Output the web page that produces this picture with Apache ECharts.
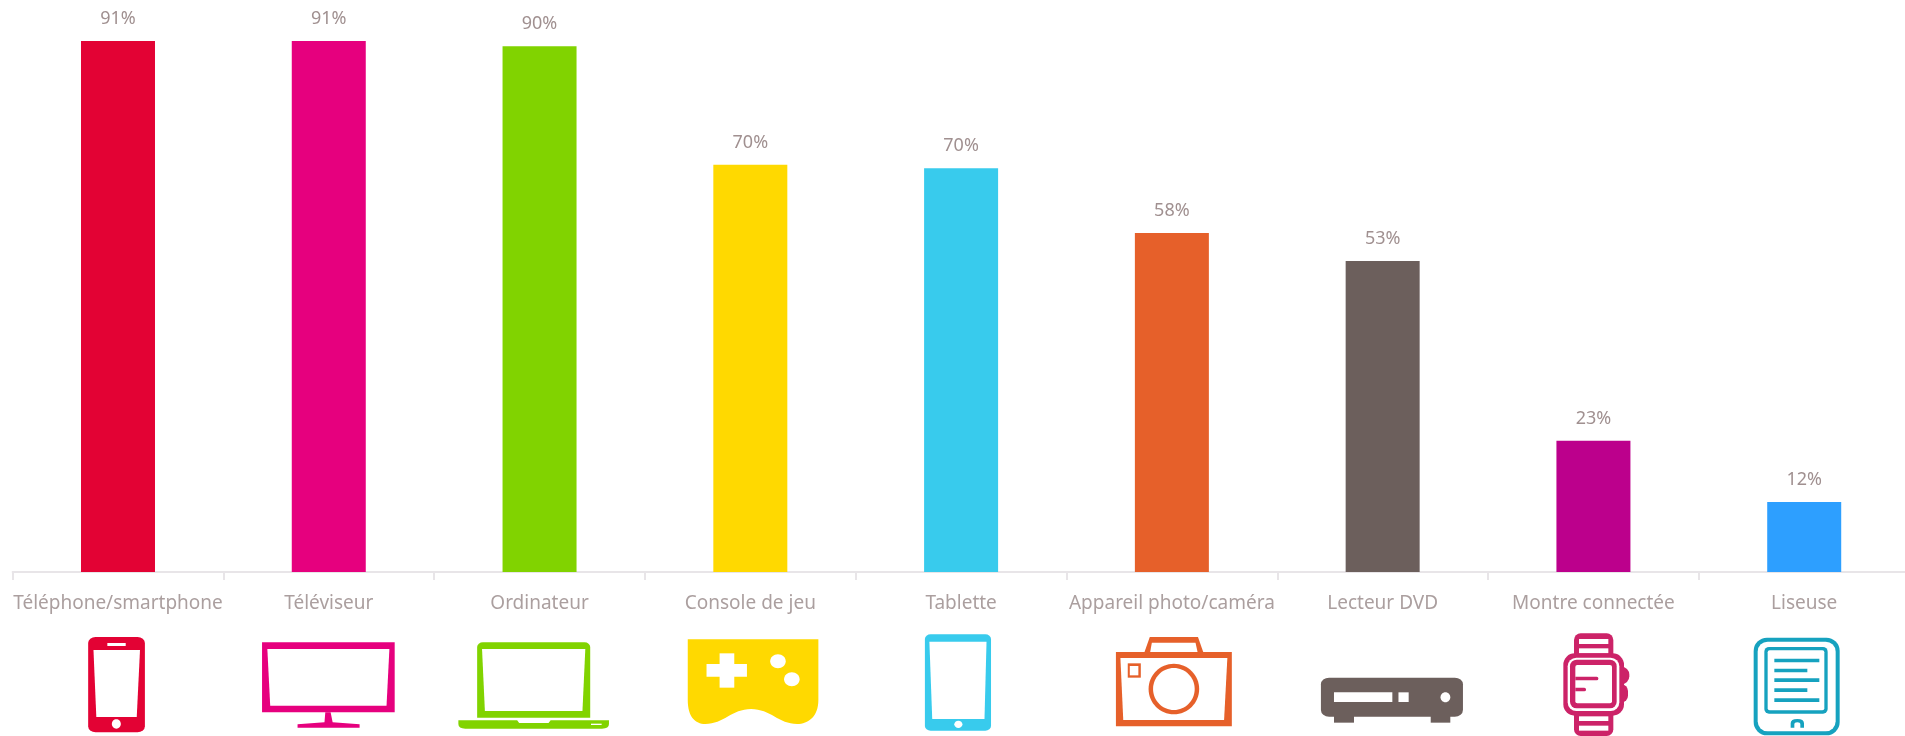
<!DOCTYPE html>
<html><head><meta charset="utf-8">
<style>html,body{margin:0;padding:0;background:#fff;overflow:hidden}#c{width:1905px;height:736px}</style>
<script src="https://cdn.jsdelivr.net/npm/echarts@6/dist/echarts.min.js"></script>
</head><body><div id="c"></div>
<script>
const categories = ['Téléphone/smartphone','Téléviseur','Ordinateur','Console de jeu','Tablette','Appareil photo/caméra','Lecteur DVD','Montre connectée','Liseuse'];
const values = [91,91,90.1,69.8,69.2,58.1,53.3,22.5,12];
const valueLabels = ['91%','91%','90%','70%','70%','58%','53%','23%','12%'];
const barColors = ['#e30234','#e6007e','#81d300','#ffd900','#38cbed','#e6602a','#6c5f5c','#bc008c','#2d9fff'];

const W = '#fff';
const rect=(x1,y1,x2,y2,fill,r)=>({type:'rect',shape:{x:x1,y:y1,width:x2-x1,height:y2-y1,r:r||0},style:{fill}});
const poly=(pts,fill)=>({type:'polygon',shape:{points:pts},style:{fill}});
const ell=(cx,cy,rx,ry,fill)=>({type:'ellipse',shape:{cx,cy,rx,ry},style:{fill}});
let pathCount=0;
const pth=(d,fill)=>{const name='iconPath'+(pathCount++);echarts.graphic.registerShape(name,echarts.graphic.extendPath(d,{}));return {type:name,style:{fill}};};
const wide=(x0,children)=>({type:'group',x:x0,y:540,scaleX:1/2.45,scaleY:1/3,children});
const fine=(x0,children)=>({type:'group',x:x0,y:625,scaleX:1/3,scaleY:1/3,children});

const c=barColors;
const icons=[
 wide(0,[rect(216,291,355,577,c[0],[18,18,18,18]),rect(263,309,308,318,W),poly([[229,330],[343,330],[335,531],[236,531]],W),ell(285,552,11,14,W)]),
 wide(0,[rect(642,307,967,517,c[1]),poly([[655,327],[954,327],[947,497],[662,497]],W),
   poly([[797,517],[810,517],[815,547],[881,553],[881,563],[729,563],[729,553],[795,547]],c[1])]),
 wide(0,[rect(1169,307,1446,533,c[2],[14,14,0,0]),poly([[1181,327],[1434,327],[1427,513],[1188,513]],W),
   pth('M1123 541 L1267 541 L1272 549 L1344 549 L1349 541 L1492 541 L1492 552 Q1492 566 1475 566 L1140 566 Q1123 566 1123 552 Z',c[2]),rect(1448,551,1474,555,W)]),
 wide(640,[pth('M117 298 L437 298 L437 480 C437 530 412 552 385 552 C340 552 320 507 272 507 C225 507 205 552 160 552 C135 552 117 530 117 480 Z',c[3]),
   rect(195,340,231,443,W),rect(163,372,262,410,W),ell(338,364,19,21,W),ell(372,418,19,21,W)]),
 wide(640,[rect(698,283,860,572,c[4],[14,14,14,14]),poly([[709,305],[849,305],[844,537],[716,537]],W),ell(780,553,10,11,W)]),
 wide(640,[poly([[1249,291],[1367,291],[1381,340],[1235,340]],c[5]),poly([[1254,308],[1361,308],[1366,336],[1250,336]],W),
   rect(1166,336,1450,559,c[5]),poly([[1177,354],[1439,354],[1431,540],[1184,540]],W),
   rect(1195,370,1227,413,c[5]),rect(1200,378,1221,406,W),ell(1308,447,62,76,c[5]),ell(1308,447,51,63,W)]),
 wide(1265,[rect(137,413,485,530,c[6],[20,20,20,20]),rect(169,528,218,548,c[6]),rect(406,528,454,548,c[6]),
   rect(169,457,312,486,W),rect(327,457,352,486,W),ell(442,472,12,15,W)]),
 fine(1550,(col=>[rect(72,25,190,333,col,[20,20,20,20]),rect(87,42,175,57,W),rect(87,70,175,85,W),rect(87,274,175,288,W),rect(87,302,175,317,W),
   rect(210,125,238,178,col,[0,24,24,0]),rect(210,178,234,232,col,[0,20,20,0]),
   rect(40,85,222,272,col,[34,34,34,34]),rect(53,98,208,258,W,[26,26,26,26]),rect(60,104,200,250,col,[20,20,20,20]),rect(76,120,186,235,W,[6,6,6,6]),
   rect(76,155,145,166,col,[0,5,5,0]),rect(76,188,108,199,col,[0,5,5,0])])('#cc2368')),
 fine(1745,(col=>[rect(26,38,284,331,col,[40,40,40,40]),rect(38,50,272,319,W,[30,30,30,30]),rect(58,66,248,266,col,[14,14,14,14]),rect(68,76,238,256,W,[6,6,6,6]),
   rect(88,101,223,112,col),rect(88,131,187,142,col),rect(88,160,223,171,col),rect(88,190,187,201,col),rect(88,220,223,231,col),
   pth('M137 308 L137 295 Q137 282 157 282 Q177 282 177 295 L177 308 L166 308 L166 298 Q166 292 157 292 Q148 292 148 298 L148 308 Z',col)])('#16a2bf'))
];

const chart=echarts.init(document.getElementById('c'),null,{renderer:'canvas'});
chart.setOption({
 animation:false,
 backgroundColor:'#fff',
 grid:{left:12.6,width:1897,top:41,height:531,containLabel:false,outerBoundsMode:'none'},
 xAxis:{type:'category',data:categories,
   axisLine:{show:true,lineStyle:{color:'#e8e5e8',width:2}},
   axisTick:{show:true,length:8,lineStyle:{color:'#e8e5e8',width:2}},
   axisLabel:{interval:0,margin:22,color:'#ab9f9f',fontSize:19,fontFamily:'"Noto Sans"',hideOverlap:false}},
 yAxis:{type:'value',min:0,max:91,show:false,splitLine:{show:false}},
 series:[{type:'bar',barWidth:74,
   data:values.map((v,i)=>({value:v,itemStyle:{color:barColors[i]}})),
   label:{show:true,position:'top',distance:13,color:'#a09090',fontSize:18,fontFamily:'"Noto Sans"',
     formatter:p=>valueLabels[p.dataIndex]}}],
 graphic:{elements:icons}
});
</script></body></html>
